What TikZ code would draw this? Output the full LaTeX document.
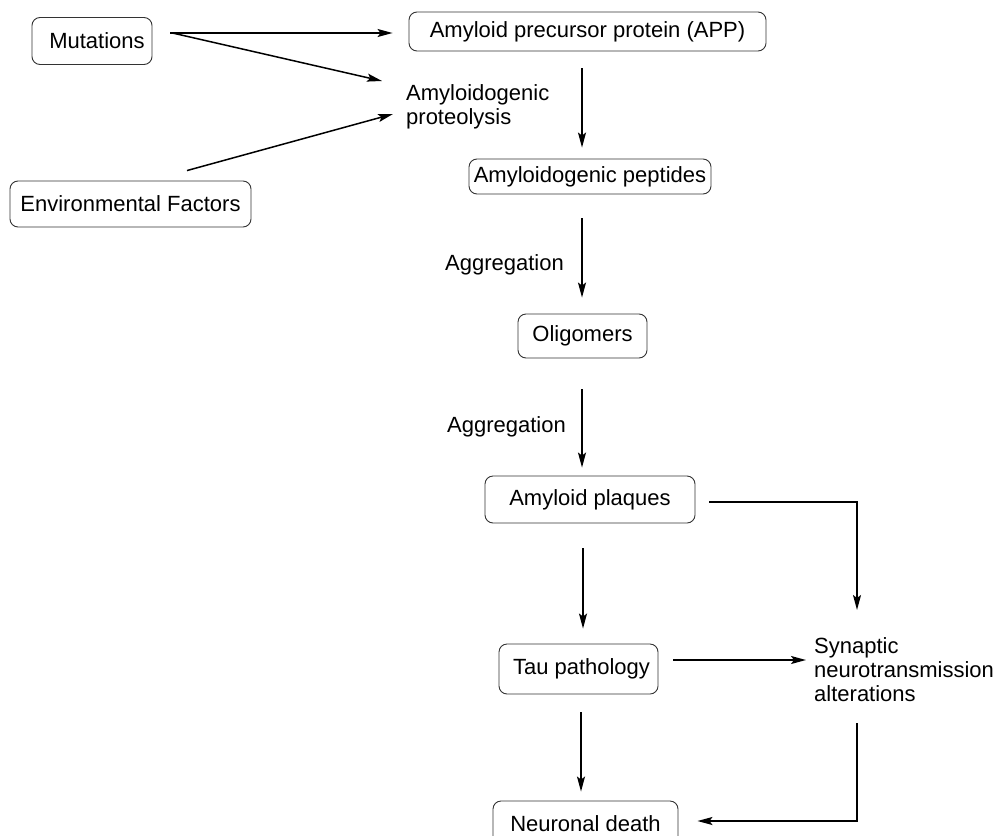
\documentclass[tikz,border=0pt]{standalone}
\usepackage{fontspec}
\setmainfont{Liberation Sans}
\usetikzlibrary{calc,arrows.meta}
\tikzset{
  box/.style={draw=black!80, line width=0.9pt, rounded corners=8pt, inner sep=0pt,
              font=\fontsize{22}{24}\selectfont},
  lbl/.style={inner sep=0pt, align=left, font=\fontsize{22}{24}\selectfont},
  arr/.style={-{Stealth[length=15pt,width=8pt,inset=3pt]}, line width=1.5pt},
}
% box: name, x, y, width, height, text
\newcommand{\pbox}[6]{
\node[box, minimum width=#4pt, minimum height=#5pt] (#1) at (#2,#3) {#6};
}
\begin{document}
\begin{tikzpicture}[x=1pt,y=-1pt]
\useasboundingbox (0,0) rectangle (995,835);

% causes
\pbox{mut}{92}{41}{120}{47}{\hspace{10pt}Mutations}
\pbox{env}{130.5}{204}{241}{46}{Environmental Factors}

% cascade
\pbox{app}{587.5}{31.5}{357}{39}{Amyloid precursor protein (APP)}
\pbox{pep}{590}{176.5}{242}{35}{Amyloidogenic peptides}
\pbox{olig}{582.5}{336}{129}{44}{Oligomers}
\pbox{plaq}{590}{499.5}{210}{47}{Amyloid plaques}
\pbox{tau}{578.5}{669}{159}{50}{\hspace{6pt}Tau pathology}
\pbox{death}{585.5}{824}{185}{46}{Neuronal death}

% side texts
\node[lbl, anchor=north west] (prot) at (406,84) {Amyloidogenic\\proteolysis};
\node[lbl, anchor=north west] (syn) at (814,637) {Synaptic\\neurotransmission\\alterations};
\node[lbl, anchor=base west] (agg1) at (445,270) {Aggregation};
\node[lbl, anchor=base west] (agg2) at (447,432) {Aggregation};

% causes -> app, proteolysis
\draw[arr] ($(mut.east)+(18,-8)$) -- ($(app.west)+(-16,1.5)$);
\draw[arr] ($(mut.east)+(20,-8)$) -- ($(prot.north west)+(-24,-3)$);
\draw[arr] ($(env.north)+(56.5,-10)$) -- ($(prot.north west)+(-13,30)$);

% main spine
\draw[arr] ($(app.south)+(-5.5,17)$) -- ($(pep.north)+(-8,-11)$);
\draw[arr] ($(pep.south)+(-8,24)$) -- ($(olig.north)+(-0.5,-16)$);
\draw[arr] ($(olig.south)+(-0.5,31)$) -- ($(plaq.north)+(-8,-8)$);
\draw[arr] ($(plaq.south)+(-7,25)$) -- ($(tau.north)+(4.5,-15)$);
\draw[arr] ($(tau.south)+(2.5,18)$) -- ($(death.north)+(-4.5,-9)$);

% synaptic branch
\draw[arr] ($(plaq.east)+(14,2.5)$) -| ($(syn.north west)+(43,-27)$);
\draw[arr] ($(tau.east)+(15,-9)$) -- ($(syn.north west)+(-8,23)$);
\draw[arr] ($(syn.north west)+(43,86)$) |- ($(death.east)+(19,-3)$);
\end{tikzpicture}
\end{document}
